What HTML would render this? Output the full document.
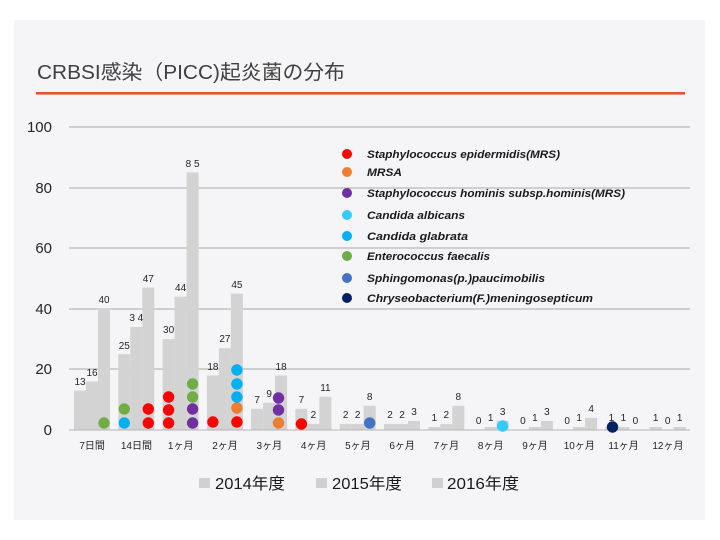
<!DOCTYPE html>
<html><head><meta charset="utf-8"><style>
html,body{margin:0;padding:0;background:#fff;}
svg{display:block;}
</style></head><body>
<svg width="720" height="540" viewBox="0 0 720 540" xmlns="http://www.w3.org/2000/svg" font-family="'Liberation Sans','Noto Sans CJK JP',sans-serif">
<rect x="0" y="0" width="720" height="540" fill="#ffffff"/>
<rect x="14" y="20" width="691" height="500" fill="#f5f4f6"/>
<text x="37" y="79" font-size="20" fill="#404040" textLength="308" lengthAdjust="spacingAndGlyphs">CRBSI感染（PICC)起炎菌の分布</text>
<rect x="36" y="92" width="649" height="2.6" fill="#dc5632"/>

<g stroke="#a9a9a9" stroke-width="1">
<line x1="69" y1="127" x2="690" y2="127"/>
<line x1="69" y1="188" x2="690" y2="188"/>
<line x1="69" y1="248" x2="690" y2="248"/>
<line x1="69" y1="309" x2="690" y2="309"/>
<line x1="69" y1="369" x2="690" y2="369"/>
</g>
<g font-size="15" fill="#262626" text-anchor="end">
<text x="52" y="132">100</text>
<text x="52" y="193">80</text>
<text x="52" y="253">60</text>
<text x="52" y="314">40</text>
<text x="52" y="374">20</text>
<text x="52" y="435">0</text>
</g>

<g fill="#d3d3d3">
<rect x="74" y="390.6" width="12" height="39.4"/>
<rect x="86" y="381.5" width="12" height="48.5"/>
<rect x="98" y="308.8" width="12" height="121.2"/>
<rect x="118.3" y="354.2" width="12" height="75.8"/>
<rect x="130.3" y="327" width="12" height="103"/>
<rect x="142.3" y="287.6" width="12" height="142.4"/>
<rect x="162.6" y="339.1" width="12" height="90.9"/>
<rect x="174.6" y="296.7" width="12" height="133.3"/>
<rect x="186.6" y="172.4" width="12" height="257.6"/>
<rect x="206.9" y="375.5" width="12" height="54.5"/>
<rect x="218.9" y="348.2" width="12" height="81.8"/>
<rect x="230.9" y="293.6" width="12" height="136.4"/>
<rect x="251.1" y="408.8" width="12" height="21.2"/>
<rect x="263.1" y="402.7" width="12" height="27.3"/>
<rect x="275.1" y="375.5" width="12" height="54.5"/>
<rect x="295.4" y="408.8" width="12" height="21.2"/>
<rect x="307.4" y="423.9" width="12" height="6.1"/>
<rect x="319.4" y="396.7" width="12" height="33.3"/>
<rect x="339.7" y="423.9" width="12" height="6.1"/>
<rect x="351.7" y="423.9" width="12" height="6.1"/>
<rect x="363.7" y="405.8" width="12" height="24.2"/>
<rect x="384" y="423.9" width="12" height="6.1"/>
<rect x="396" y="423.9" width="12" height="6.1"/>
<rect x="408" y="420.9" width="12" height="9.1"/>
<rect x="428.3" y="427" width="12" height="3"/>
<rect x="440.3" y="423.9" width="12" height="6.1"/>
<rect x="452.3" y="405.8" width="12" height="24.2"/>
<rect x="484.6" y="427" width="12" height="3"/>
<rect x="496.6" y="420.9" width="12" height="9.1"/>
<rect x="528.9" y="427" width="12" height="3"/>
<rect x="540.9" y="420.9" width="12" height="9.1"/>
<rect x="573.1" y="427" width="12" height="3"/>
<rect x="585.1" y="417.9" width="12" height="12.1"/>
<rect x="605.4" y="427" width="12" height="3"/>
<rect x="617.4" y="427" width="12" height="3"/>
<rect x="649.7" y="427" width="12" height="3"/>
<rect x="673.7" y="427" width="12" height="3"/>
</g>
<line x1="69" y1="430" x2="690" y2="430" stroke="#b5b5b5" stroke-width="1"/>

<g font-size="10" fill="#262626" text-anchor="middle">
<text x="80" y="385">13</text>
<text x="92" y="376">16</text>
<text x="104" y="303">40</text>
<text x="124.3" y="349">25</text>
<text x="136.3" y="321">3 4</text>
<text x="148.3" y="282">47</text>
<text x="168.6" y="333">30</text>
<text x="180.6" y="291">44</text>
<text x="192.6" y="167">8 5</text>
<text x="212.9" y="370">18</text>
<text x="224.9" y="342">27</text>
<text x="236.9" y="288">45</text>
<text x="257.1" y="403">7</text>
<text x="269.1" y="397">9</text>
<text x="281.1" y="370">18</text>
<text x="301.4" y="403">7</text>
<text x="313.4" y="418">2</text>
<text x="325.4" y="391">11</text>
<text x="345.7" y="418">2</text>
<text x="357.7" y="418">2</text>
<text x="369.7" y="400">8</text>
<text x="390" y="418">2</text>
<text x="402" y="418">2</text>
<text x="414" y="415">3</text>
<text x="434.3" y="421">1</text>
<text x="446.3" y="418">2</text>
<text x="458.3" y="400">8</text>
<text x="478.6" y="424">0</text>
<text x="490.6" y="421">1</text>
<text x="502.6" y="415">3</text>
<text x="522.9" y="424">0</text>
<text x="534.9" y="421">1</text>
<text x="546.9" y="415">3</text>
<text x="567.1" y="424">0</text>
<text x="579.1" y="421">1</text>
<text x="591.1" y="412">4</text>
<text x="611.4" y="421">1</text>
<text x="623.4" y="421">1</text>
<text x="635.4" y="424">0</text>
<text x="655.7" y="421">1</text>
<text x="667.7" y="424">0</text>
<text x="679.7" y="421">1</text>
</g>

<!-- dots -->
<g>
<circle cx="104" cy="423" r="5.7" fill="#70ad47"/>
<circle cx="124.3" cy="423" r="5.7" fill="#00b0f0"/>
<circle cx="124.3" cy="409" r="5.7" fill="#70ad47"/>
<circle cx="148.3" cy="423" r="5.7" fill="#ff0000"/>
<circle cx="148.3" cy="409" r="5.7" fill="#ff0000"/>
<circle cx="168.6" cy="423" r="5.7" fill="#ff0000"/>
<circle cx="168.6" cy="410" r="5.7" fill="#ff0000"/>
<circle cx="168.6" cy="397" r="5.7" fill="#ff0000"/>
<circle cx="192.6" cy="423" r="5.7" fill="#7030a0"/>
<circle cx="192.6" cy="409" r="5.7" fill="#7030a0"/>
<circle cx="192.6" cy="397" r="5.7" fill="#70ad47"/>
<circle cx="192.6" cy="384" r="5.7" fill="#70ad47"/>
<circle cx="212.9" cy="422" r="5.7" fill="#ff0000"/>
<circle cx="236.9" cy="422" r="5.7" fill="#ff0000"/>
<circle cx="236.9" cy="408" r="5.7" fill="#ed7d31"/>
<circle cx="236.9" cy="397" r="5.7" fill="#00b0f0"/>
<circle cx="236.9" cy="384" r="5.7" fill="#00b0f0"/>
<circle cx="236.9" cy="370" r="5.7" fill="#00b0f0"/>
<circle cx="278.5" cy="423" r="5.7" fill="#ed7d31"/>
<circle cx="278.5" cy="410" r="5.7" fill="#7030a0"/>
<circle cx="278.5" cy="398" r="5.7" fill="#7030a0"/>
<circle cx="301.4" cy="424" r="5.7" fill="#ff0000"/>
<circle cx="369.7" cy="423" r="5.7" fill="#4472c4"/>
<circle cx="502.6" cy="426" r="5.7" fill="#33ccff"/>
<circle cx="612.5" cy="427" r="5.7" fill="#002060"/>
</g>

<g font-size="10" fill="#262626" text-anchor="middle">
<text x="92.1" y="449">7日間</text>
<text x="136.4" y="449">14日間</text>
<text x="180.7" y="449">1ヶ月</text>
<text x="225" y="449">2ヶ月</text>
<text x="269.3" y="449">3ヶ月</text>
<text x="313.6" y="449">4ヶ月</text>
<text x="357.9" y="449">5ヶ月</text>
<text x="402.1" y="449">6ヶ月</text>
<text x="446.4" y="449">7ヶ月</text>
<text x="490.7" y="449">8ヶ月</text>
<text x="535" y="449">9ヶ月</text>
<text x="579.3" y="449">10ヶ月</text>
<text x="623.6" y="449">11ヶ月</text>
<text x="667.9" y="449">12ヶ月</text>
</g>

<!-- legend -->
<g>
<circle cx="347" cy="154" r="5" fill="#ff0000"/>
<circle cx="347" cy="172" r="5" fill="#ed7d31"/>
<circle cx="347" cy="193" r="5" fill="#7030a0"/>
<circle cx="347" cy="215" r="5" fill="#33ccff"/>
<circle cx="347" cy="236" r="5" fill="#00b0f0"/>
<circle cx="347" cy="256" r="5" fill="#70ad47"/>
<circle cx="347" cy="278" r="5" fill="#4472c4"/>
<circle cx="347" cy="298" r="5" fill="#002060"/>
</g>
<g font-size="11" font-style="italic" font-weight="bold" fill="#1a1a1a">
<text x="367" y="158" textLength="193" lengthAdjust="spacingAndGlyphs">Staphylococcus epidermidis(MRS)</text>
<text x="367" y="176" textLength="35" lengthAdjust="spacingAndGlyphs">MRSA</text>
<text x="367" y="197" textLength="258" lengthAdjust="spacingAndGlyphs">Staphylococcus hominis subsp.hominis(MRS)</text>
<text x="367" y="219" textLength="98" lengthAdjust="spacingAndGlyphs">Candida albicans</text>
<text x="367" y="240" textLength="101" lengthAdjust="spacingAndGlyphs">Candida glabrata</text>
<text x="367" y="260" textLength="123" lengthAdjust="spacingAndGlyphs">Enterococcus faecalis</text>
<text x="367" y="282" textLength="178" lengthAdjust="spacingAndGlyphs">Sphingomonas(p.)paucimobilis</text>
<text x="367" y="302" textLength="226" lengthAdjust="spacingAndGlyphs">Chryseobacterium(F.)meningosepticum</text>
</g>

<g>
<rect x="199" y="478" width="11" height="10" fill="#d0d0d0"/>
<rect x="316" y="478" width="11" height="10" fill="#d0d0d0"/>
<rect x="432" y="478" width="11" height="10" fill="#d0d0d0"/>
</g>
<g font-size="16" fill="#1a1a1a">
<text x="215" y="489" textLength="70" lengthAdjust="spacingAndGlyphs">2014年度</text>
<text x="332" y="489" textLength="70" lengthAdjust="spacingAndGlyphs">2015年度</text>
<text x="447" y="489" textLength="72" lengthAdjust="spacingAndGlyphs">2016年度</text>
</g>
</svg>
</body></html>
